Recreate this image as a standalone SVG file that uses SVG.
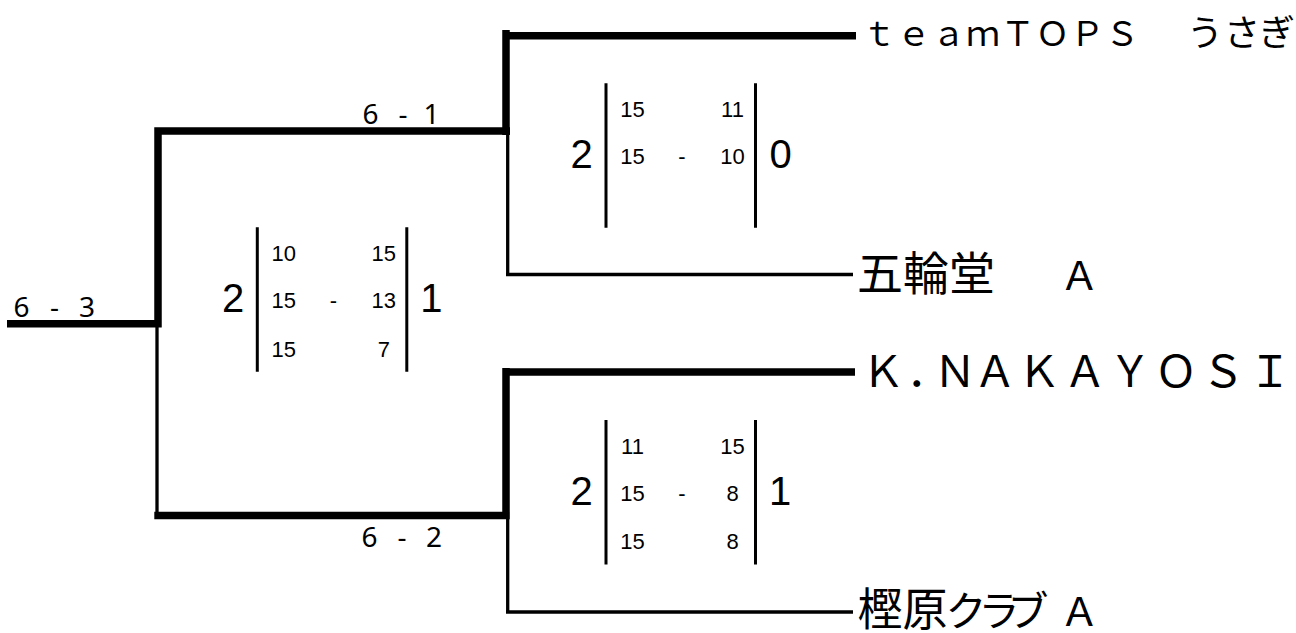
<svg xmlns="http://www.w3.org/2000/svg" width="1296" height="633" viewBox="0 0 1296 633">
<style>
.thick{stroke:#000;stroke-width:7.5;fill:none;stroke-linecap:butt}
.thin{stroke:#000;stroke-width:3.3;fill:none;stroke-linecap:butt}
.bar{stroke:#000;stroke-width:3;fill:none}
.sc{font-family:'Noto Sans','Open Sans',sans-serif;font-size:28px;fill:#000}
.big{font-family:'Liberation Sans',Arial,sans-serif;font-size:40px;fill:#000}
.sm{font-family:'Liberation Sans',Arial,sans-serif;font-size:22px;fill:#000}
.jp{font-family:'Noto Sans CJK JP','Noto Sans',sans-serif;fill:#000}
</style>
<rect width="1296" height="633" fill="#fff"/>
<g id="connectors">
<path class="thick" d="M7 323.7H161.7M158 127.3V327.3M154.3 131H510M154.3 515.5H509.8M506 30V135M502.3 35.7H856M506 368V519.3M502.3 372H855"/>
<path class="thin" d="M157 327V519M507.7 134V276.2M506 274.5H853M507.7 519V613.7M506 612H853"/>
</g>
<g id="score-final" class="sc">
<text x="21.5 38 54.5 71 87" y="316.7" text-anchor="middle">6 - 3</text>
</g>
<g id="score-semi1" class="sc">
<text x="370.5 387 403 417 431.5" y="124.3" text-anchor="middle">6 - 1</text>
</g>
<g id="score-semi2" class="sc">
<text x="369.5 386 402 418 434" y="546.7" text-anchor="middle">6 - 2</text>
</g>
<g id="box-final" transform="translate(257.3,227.3)">
<path class="bar" d="M0 0V144.5M149.5 0V144.5"/>
<text class="big" x="-24.3" y="84.7" text-anchor="middle">2</text>
<text class="big" x="174" y="84.7" text-anchor="middle">1</text>
<g class="sm" text-anchor="middle">
<text x="26.5" y="33.5">10</text><text x="126.5" y="33.5">15</text>
<text x="26.5" y="81">15</text><text x="76" y="81">-</text><text x="126.5" y="81">13</text>
<text x="26.5" y="129.3">15</text><text x="126.5" y="129.3">7</text>
</g>
</g>
<g id="box-semi1" transform="translate(606,83.3)">
<path class="bar" d="M0 0V144.5M149.5 0V144.5"/>
<text class="big" x="-24.3" y="84.7" text-anchor="middle">2</text>
<text class="big" x="174.5" y="84.7" text-anchor="middle">0</text>
<g class="sm" text-anchor="middle">
<text x="26.5" y="33.5">15</text><text x="126.5" y="33.5">11</text>
<text x="26.5" y="81">15</text><text x="76" y="81">-</text><text x="126.5" y="81">10</text>
</g>
</g>
<g id="box-semi2" transform="translate(606,420)">
<path class="bar" d="M0 0V144.5M149.5 0V144.5"/>
<text class="big" x="-24.3" y="84.7" text-anchor="middle">2</text>
<text class="big" x="174" y="84.7" text-anchor="middle">1</text>
<g class="sm" text-anchor="middle">
<text x="26.5" y="33.5">11</text><text x="126.5" y="33.5">15</text>
<text x="26.5" y="81">15</text><text x="76" y="81">-</text><text x="126.5" y="81">8</text>
<text x="26.5" y="129.3">15</text><text x="126.5" y="129.3">8</text>
</g>
</g>
<g id="team-teamtops">
<text class="jp" font-size="34" y="46" text-anchor="middle" x="879 913.7 948.4 983.1 1017.8 1052.5 1087.2 1121.9 1156.6 1205 1242 1277">ｔｅａｍＴＯＰＳ　<tspan font-size="36">うさぎ</tspan></text>
</g>
<g id="team-gorindo">
<text class="jp" font-size="46" x="857" y="290">五輪堂<tspan x="1079.5" text-anchor="middle" font-size="40">Ａ</tspan></text>
</g>
<g id="team-knakayosi">
<text class="jp" font-size="43" y="387" text-anchor="middle" x="883 928 955 995 1039 1085 1130 1176 1223 1270">Ｋ．ＮＡＫＡＹＯＳＩ</text>
</g>
<g id="team-kashihara">
<text class="jp" font-size="45" y="626" text-anchor="middle" x="880 925 966 999 1028 1079.5">樫原<tspan font-size="41">クラブ</tspan><tspan font-size="40">Ａ</tspan></text>
</g>
</svg>
